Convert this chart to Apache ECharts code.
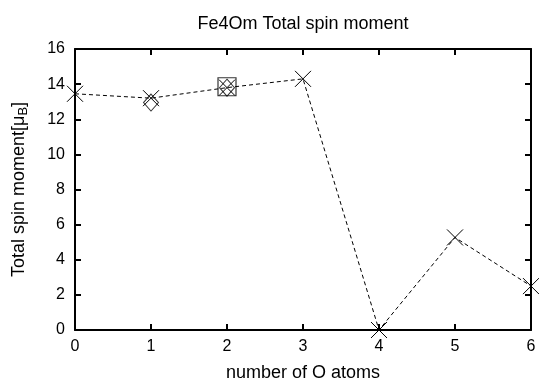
<!DOCTYPE html>
<html>
<head>
<meta charset="utf-8">
<script src="https://cdn.jsdelivr.net/npm/echarts@6/dist/echarts.min.js"></script>
<style>
  html, body { margin: 0; padding: 0; background: #fff; }
  #main { width: 539px; height: 383px; }
</style>
</head>
<body>
<div id="main"></div>
<script>
// 数据
const oAtoms = [0, 1, 2, 3, 4, 5, 6];
const spinMoment = [13.45, 13.2, 13.8, 14.3, 0, 5.27, 2.5];
const diamondPts = [[1, 12.95], [2, 13.8]];
const squarePts = [[2, 13.85]];
const yTicks = [0, 2, 4, 6, 8, 10, 12, 14, 16];

const crossPath = 'path://M0,0L10,10M10,0L0,10';
const font = 'Liberation Sans, Arial, sans-serif';

let myChart = echarts.init(document.getElementById('main'));

const axisCommon = {
    axisLine: { show: true, onZero: false, lineStyle: { color: '#000', width: 2 } },
    axisTick: { show: true, inside: true, length: 6, lineStyle: { color: '#000', width: 2 } },
    splitLine: { show: false }
};

let option = {
    animation: false,
    title: {
        text: 'Fe4Om Total spin moment',
        left: 298,
        textAlign: 'center',
        top: 10,
        textStyle: { fontFamily: font, fontSize: 18, fontWeight: 'normal', color: '#000' }
    },
    grid: { left: 75, right: 8, top: 49, bottom: 53, outerBoundsMode: 'none', containLabel: false },
    xAxis: [
        Object.assign({
            type: 'value', min: 0, max: 6, interval: 1, position: 'bottom',
            name: 'number of O atoms', nameLocation: 'middle', nameGap: 34,
            nameTextStyle: { fontFamily: font, fontSize: 18, color: '#000' },
            axisLabel: { fontFamily: font, fontSize: 16, color: '#000', margin: 9 }
        }, axisCommon),
        Object.assign({
            type: 'value', min: 0, max: 6, interval: 1, position: 'top',
            axisLabel: { show: false }
        }, axisCommon)
    ],
    yAxis: [
        Object.assign({
            type: 'value', min: 0, max: 16, interval: 2, position: 'left',
            name: '{a|Total spin moment[μ}{b|B}{a|]}', nameLocation: 'middle', nameGap: 45,
            nameTextStyle: {
                rich: {
                    a: { fontFamily: font, fontSize: 18, color: '#000' },
                    b: { fontFamily: font, fontSize: 13, color: '#000', verticalAlign: 'bottom', padding: [8, 0, 0, 0] }
                }
            },
            axisLabel: {
                fontFamily: font, fontSize: 16, color: '#000', margin: 10,
                formatter: function (v) { return yTicks.indexOf(v) >= 0 ? String(v) : ''; }
            }
        }, axisCommon),
        Object.assign({
            type: 'value', min: 0, max: 16, interval: 2, position: 'right',
            axisLabel: { show: false }
        }, axisCommon)
    ],
    series: [
        {
            type: 'line',
            data: oAtoms.map((x, i) => [x, spinMoment[i]]),
            symbol: crossPath,
            symbolSize: 16,
            lineStyle: { color: '#000', width: 1, type: [4, 3] },
            itemStyle: { color: 'none', borderColor: '#000', borderWidth: 1 },
            clip: false,
            z: 3
        },
        {
            type: 'scatter',
            data: diamondPts,
            symbol: 'diamond',
            symbolSize: [15, 17],
            itemStyle: { color: 'none', borderColor: '#000', borderWidth: 1 },
            z: 2
        },
        {
            type: 'scatter',
            data: squarePts,
            symbol: 'rect',
            symbolSize: 18,
            itemStyle: { color: 'none', borderColor: '#000', borderWidth: 1.2 },
            z: 2
        }
    ]
};
myChart.setOption(option);
</script>
</body>
</html>
